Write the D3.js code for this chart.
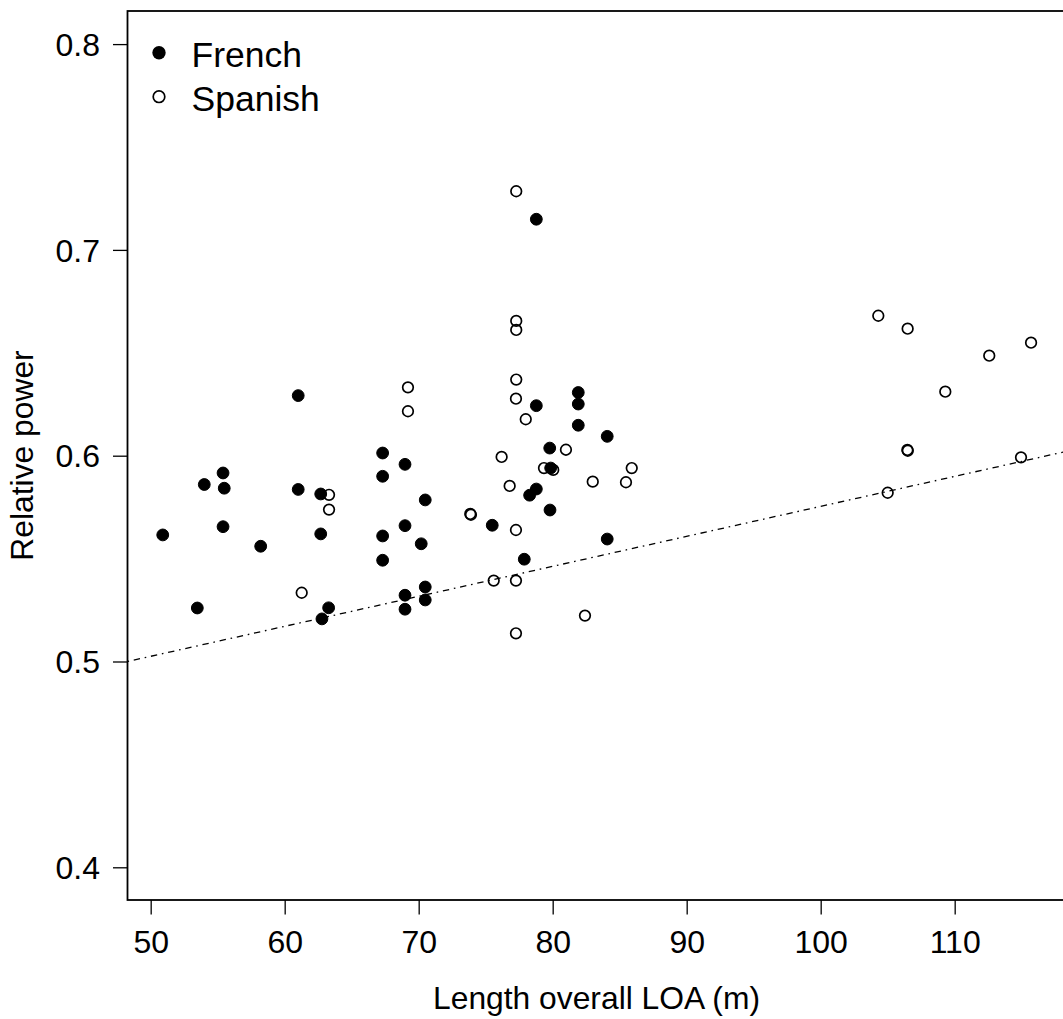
<!DOCTYPE html>
<html>
<head>
<meta charset="utf-8">
<script src="https://cdn.jsdelivr.net/npm/d3@7"></script>
<style>
  html, body { margin: 0; padding: 0; background: #ffffff; }
  svg { display: block; }
  text { font-family: "Liberation Sans", Arial, Helvetica, sans-serif; fill: #000; }
</style>
</head>
<body>
<svg id="chart" width="1063" height="1019"></svg>
<script>
// ---- Data ----
const frenchLOA = [50.9, 53.48, 54.0, 55.4, 55.49, 55.4, 58.21, 61.01, 61.01, 62.69, 62.69, 62.78, 63.28,
  67.31, 67.31, 67.31, 67.31, 68.98, 68.98, 68.98, 68.98, 70.19, 70.49, 70.49, 70.49,
  75.49, 77.88, 78.28, 78.78, 78.78, 78.78, 79.78, 79.85, 79.8, 81.91, 81.91, 81.91, 84.07, 84.07];
const frenchPower = [0.5615, 0.526, 0.586, 0.5916, 0.5842, 0.5655, 0.556, 0.6292, 0.5836, 0.5814, 0.562, 0.5207, 0.5261,
  0.6013, 0.59, 0.561, 0.5492, 0.5958, 0.566, 0.5322, 0.5254, 0.5572, 0.5785, 0.5362, 0.5299,
  0.5662, 0.5497, 0.5808, 0.5838, 0.6243, 0.7149, 0.6037, 0.594, 0.5736, 0.6307, 0.6251, 0.6148, 0.6094, 0.5595];

const spanishLOA = [61.27, 63.31, 63.31, 69.2, 69.2, 73.85, 73.9, 75.6, 76.19, 76.79,
  77.28, 77.28, 77.28, 77.28, 77.26, 77.26, 77.26, 77.26, 77.99, 79.35, 80.04, 80.99,
  82.41, 82.99, 85.47, 85.9, 104.3, 106.49, 106.47, 106.5, 105.0, 109.3, 112.58, 114.95, 115.7];
const spanishPower = [0.5334, 0.581, 0.5738, 0.6332, 0.6216, 0.5717, 0.5713, 0.5393, 0.5994, 0.5853,
  0.7285, 0.6655, 0.6611, 0.637, 0.6277, 0.5639, 0.5393, 0.5137, 0.6177, 0.594, 0.5931, 0.6029,
  0.5223, 0.5874, 0.5871, 0.594, 0.668, 0.6617, 0.6028, 0.6024, 0.582, 0.6311, 0.6486, 0.5992, 0.6549];

const trendLOA = [48.27, 118.27];
const trendPower = [0.5, 0.602];

const xTicks = [50, 60, 70, 80, 90, 100, 110];
const yTicks = [0.4, 0.5, 0.6, 0.7, 0.8];
const yTickLabels = ["0.4", "0.5", "0.6", "0.7", "0.8"];

const seriesNames = ["French", "Spanish"];
const xTitle = "Length overall LOA (m)";
const yTitle = "Relative power";

// ---- Layout ----
const svg = d3.select("#chart");
const pL = 127.5, pR = 1065.5, pT = 11, pB = 900;

const x = d3.scaleLinear().domain([48.27, 118.27]).range([pL, pR]);
const y = d3.scaleLinear().domain([0.38411, 0.81608]).range([pB, pT]);

// Box
svg.append("rect")
  .attr("x", pL).attr("y", pT)
  .attr("width", pR - pL).attr("height", pB - pT)
  .attr("fill", "none").attr("stroke", "#000").attr("stroke-width", 1.8);

// X axis
const xAxis = d3.axisBottom(x).tickValues(xTicks).tickSize(14.5).tickPadding(17).tickFormat(d3.format("d"));
const gx = svg.append("g").attr("transform", `translate(0,${pB})`).call(xAxis);
gx.select(".domain").remove();
gx.selectAll(".tick line").attr("stroke", "#000").attr("stroke-width", 1.3);
gx.selectAll(".tick text").attr("font-size", "32px").attr("font-family", "Liberation Sans, Arial, sans-serif")
  .attr("fill", "#000").attr("dy", null).attr("y", 52.5);

// Y axis
const yAxis = d3.axisLeft(y).tickValues(yTicks).tickSize(14.5).tickPadding(13)
  .tickFormat((d, i) => yTickLabels[i]);
const gy = svg.append("g").attr("transform", `translate(${pL},0)`).call(yAxis);
gy.select(".domain").remove();
gy.selectAll(".tick line").attr("stroke", "#000").attr("stroke-width", 1.3);
gy.selectAll(".tick text").attr("font-size", "32px").attr("font-family", "Liberation Sans, Arial, sans-serif")
  .attr("fill", "#000").attr("dy", "0.35em");

// Axis titles
svg.append("text")
  .attr("x", (pL + pR) / 2).attr("y", 1009)
  .attr("text-anchor", "middle").attr("font-size", "31.8px")
  .text(xTitle);
svg.append("text")
  .attr("transform", `translate(33,${(pT + pB) / 2}) rotate(-90)`)
  .attr("text-anchor", "middle").attr("font-size", "31.8px")
  .text(yTitle);

// Plot clip
svg.append("clipPath").attr("id", "plotclip")
  .append("rect").attr("x", pL).attr("y", pT).attr("width", pR - pL).attr("height", pB - pT);
const plot = svg.append("g").attr("clip-path", "url(#plotclip)");

// Trend line (dot-dash)
const line = d3.line().x(d => x(d[0])).y(d => y(d[1]));
plot.append("path")
  .datum(trendLOA.map((v, i) => [v, trendPower[i]]))
  .attr("d", line)
  .attr("fill", "none").attr("stroke", "#000").attr("stroke-width", 1.3)
  .attr("stroke-dasharray", "1.6,4.8,6.4,4.8");

// Points
plot.selectAll("circle.fr")
  .data(frenchLOA.map((v, i) => [v, frenchPower[i]]))
  .enter().append("circle").attr("class", "fr")
  .attr("cx", d => x(d[0])).attr("cy", d => y(d[1]))
  .attr("r", 5.9).attr("fill", "#000").attr("stroke", "#000").attr("stroke-width", 1);

plot.selectAll("circle.sp")
  .data(spanishLOA.map((v, i) => [v, spanishPower[i]]))
  .enter().append("circle").attr("class", "sp")
  .attr("cx", d => x(d[0])).attr("cy", d => y(d[1]))
  .attr("r", 5.3).attr("fill", "none").attr("stroke", "#000").attr("stroke-width", 1.7);

// Legend
const legend = svg.append("g");
legend.append("circle").attr("cx", 159).attr("cy", 52.7).attr("r", 6.7).attr("fill", "#000");
legend.append("circle").attr("cx", 159).attr("cy", 96.7).attr("r", 5.8).attr("fill", "none")
  .attr("stroke", "#000").attr("stroke-width", 1.7);
legend.append("text").attr("x", 191.5).attr("y", 66.7).attr("font-size", "35.5px").text(seriesNames[0]);
legend.append("text").attr("x", 191.5).attr("y", 110.7).attr("font-size", "35.5px").text(seriesNames[1]);
</script>
</body>
</html>
